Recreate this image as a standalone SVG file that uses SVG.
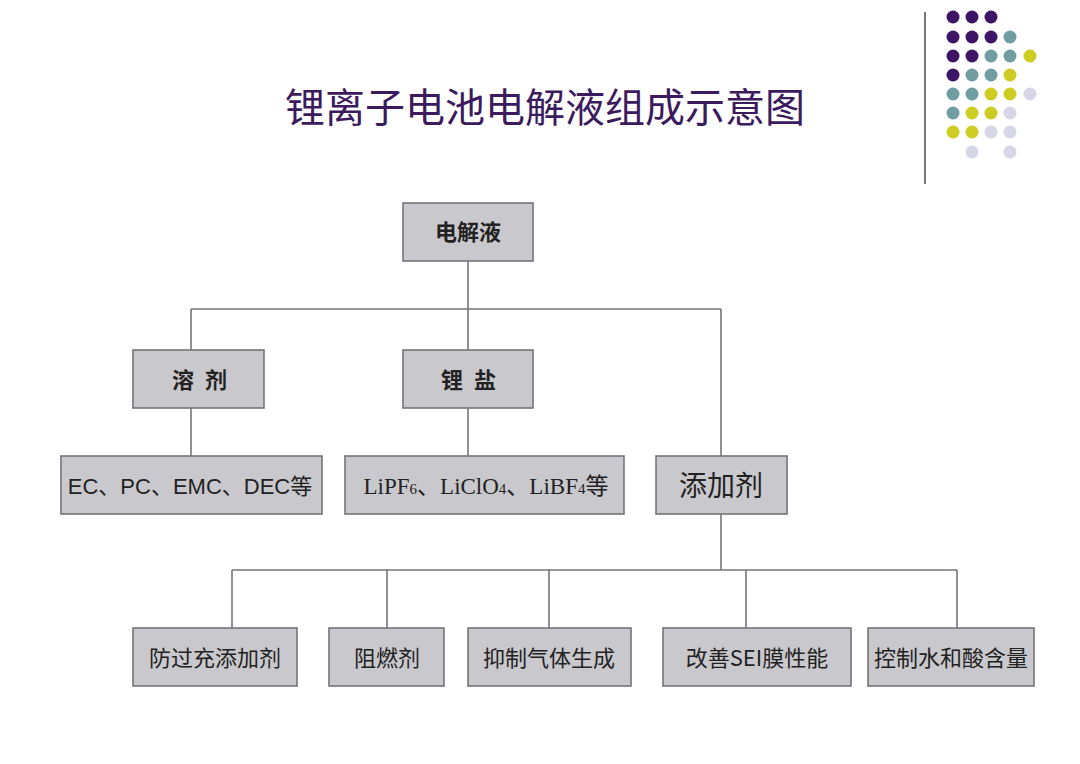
<svg xmlns="http://www.w3.org/2000/svg" width="1080" height="764" viewBox="0 0 1080 764">
<style>
.box{fill:#c9c8cc;stroke:#75747a;stroke-width:1.6}
.cn{font-family:"Noto Sans CJK SC","Noto Sans",sans-serif;fill:#222;text-anchor:middle}
.en{font-family:"Liberation Sans","Noto Sans CJK SC",sans-serif;fill:#222;text-anchor:middle}
.se{font-family:"Liberation Serif","Noto Sans CJK SC",serif;fill:#222;text-anchor:middle}
.ln{fill:none;stroke:#75747a;stroke-width:1.6}
.p{fill:#3d1466}.t{fill:#6f9da2}.y{fill:#cdcc22}.l{fill:#d6d6e6}
</style>
<rect width="1080" height="764" fill="#fff"/>
<g id="decor">
<line x1="925" y1="12" x2="925" y2="184" stroke="#777" stroke-width="2"/>
<g>
<circle class="p" cx="953" cy="17" r="6.5"/><circle class="p" cx="972" cy="17" r="6.5"/><circle class="p" cx="991" cy="17" r="6.5"/>
<circle class="p" cx="953" cy="37" r="6.5"/><circle class="p" cx="972" cy="37" r="6.5"/><circle class="p" cx="991" cy="37" r="6.5"/><circle class="t" cx="1010" cy="37" r="6.5"/>
<circle class="p" cx="953" cy="56" r="6.5"/><circle class="p" cx="972" cy="56" r="6.5"/><circle class="t" cx="991" cy="56" r="6.5"/><circle class="t" cx="1010" cy="56" r="6.5"/><circle class="y" cx="1030" cy="56" r="6.5"/>
<circle class="p" cx="953" cy="75" r="6.5"/><circle class="t" cx="972" cy="75" r="6.5"/><circle class="t" cx="991" cy="75" r="6.5"/><circle class="y" cx="1010" cy="75" r="6.5"/>
<circle class="t" cx="953" cy="94" r="6.5"/><circle class="t" cx="972" cy="94" r="6.5"/><circle class="y" cx="991" cy="94" r="6.5"/><circle class="y" cx="1010" cy="94" r="6.5"/><circle class="l" cx="1030" cy="94" r="6.5"/>
<circle class="t" cx="953" cy="113" r="6.5"/><circle class="y" cx="972" cy="113" r="6.5"/><circle class="y" cx="991" cy="113" r="6.5"/><circle class="l" cx="1010" cy="113" r="6.5"/>
<circle class="y" cx="953" cy="132" r="6.5"/><circle class="y" cx="972" cy="132" r="6.5"/><circle class="l" cx="991" cy="132" r="6.5"/><circle class="l" cx="1010" cy="132" r="6.5"/>
<circle class="l" cx="972" cy="152" r="6.5"/><circle class="l" cx="1010" cy="152" r="6.5"/>
</g>
</g>
<text id="title" x="545" y="122" font-family="'Noto Sans CJK SC',sans-serif" font-size="40" fill="#3b1a5e" text-anchor="middle">锂离子电池电解液组成示意图</text>
<g id="connectors">
<path class="ln" d="M468 261V350M191 309H721M191 309V350M721 309V456M191 408V456M468 408V456M721 514V570M232 570H957M232 570V628M387 570V628M549 570V628M746 570V628M957 570V628"/>
</g>
<g id="n-root"><rect class="box" x="403" y="203" width="130" height="58"/><text class="cn" x="468" y="240" font-size="22" font-weight="bold">电解液</text></g>
<g id="n-solvent"><rect class="box" x="133" y="350" width="131" height="58"/><text class="cn" x="183" y="388" font-size="22" font-weight="bold">溶</text><text class="cn" x="216" y="388" font-size="22" font-weight="bold">剂</text></g>
<g id="n-salt"><rect class="box" x="403" y="350" width="130" height="58"/><text class="cn" x="452" y="388" font-size="22" font-weight="bold">锂</text><text class="cn" x="485" y="388" font-size="22" font-weight="bold">盐</text></g>
<g id="n-solvents"><rect class="box" x="61" y="456" width="261" height="58"/><text class="en" x="190" y="494" font-size="22">EC、PC、EMC、DEC等</text></g>
<g id="n-salts"><rect class="box" x="345" y="456" width="279" height="58"/><text class="se" x="486" y="494" font-size="23">LiPF<tspan font-size="15">6</tspan>、LiClO<tspan font-size="15">4</tspan>、LiBF<tspan font-size="15">4</tspan>等</text></g>
<g id="n-additive"><rect class="box" x="656" y="456" width="131" height="58"/><text class="cn" x="721" y="496" font-size="28">添加剂</text></g>
<g id="n-a1"><rect class="box" x="133" y="628" width="164" height="58"/><text class="cn" x="215" y="666" font-size="22">防过充添加剂</text></g>
<g id="n-a2"><rect class="box" x="329" y="628" width="115" height="58"/><text class="cn" x="387" y="666" font-size="22">阻燃剂</text></g>
<g id="n-a3"><rect class="box" x="468" y="628" width="163" height="58"/><text class="cn" x="549" y="666" font-size="22">抑制气体生成</text></g>
<g id="n-a4"><rect class="box" x="663" y="628" width="188" height="58"/><text class="cn" x="757" y="666" font-size="22">改善SEI膜性能</text></g>
<g id="n-a5"><rect class="box" x="868" y="628" width="166" height="58"/><text class="cn" x="951" y="666" font-size="22">控制水和酸含量</text></g>
</svg>
